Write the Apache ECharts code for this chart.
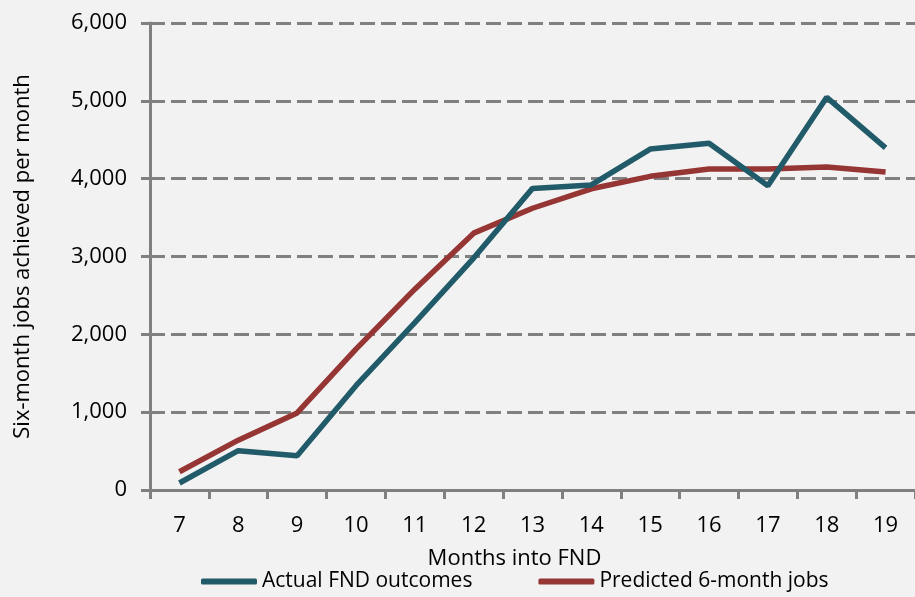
<!DOCTYPE html>
<html><head><meta charset="utf-8">
<script src="https://cdn.jsdelivr.net/npm/echarts@6/dist/echarts.min.js"></script>
<style>html,body{margin:0;padding:0;background:#f2f2f2;}#c{width:915px;height:597px;}</style>
</head><body><div id="c"></div>
<script>
const months = ['7','8','9','10','11','12','13','14','15','16','17','18','19'];
const actualOutcomes = [90, 505, 440, 1340, 2150, 2980, 3875, 3920, 4380, 4455, 3910, 5045, 4395];
const predictedJobs = [235, 640, 990, 1810, 2580, 3300, 3620, 3870, 4030, 4125, 4125, 4150, 4085];
const yTicks = [0, 1000, 2000, 3000, 4000, 5000, 6000];

const FONT = 'Open Sans';
const chart = echarts.init(document.getElementById('c'));
chart.setOption({
  backgroundColor: '#f2f2f2',
  animation: false,
  textStyle: {fontFamily: FONT},
  grid: {left: 150, right: -6, top: 23, bottom: 107, containLabel: false},
  legend: {
    bottom: 0, left: 196,
    icon: 'roundRect',
    itemWidth: 56, itemHeight: 6, itemGap: 66,
    textStyle: {fontFamily: FONT, fontSize: 21, color: '#000'},
    data: ['Actual FND outcomes', 'Predicted 6-month jobs']
  },
  xAxis: {
    type: 'category', data: months, boundaryGap: true,
    name: 'Months into FND', nameLocation: 'middle', nameGap: 58,
    nameTextStyle: {fontFamily: FONT, fontSize: 22, color: '#000', padding: [0, 36, 0, 0]},
    axisLine: {lineStyle: {color: '#808080', width: 3}},
    axisTick: {show: true, length: 9, lineStyle: {color: '#808080', width: 3}},
    axisLabel: {fontFamily: FONT, fontSize: 22, color: '#000', margin: 25}
  },
  yAxis: {
    type: 'value', min: yTicks[0], max: yTicks[yTicks.length-1], interval: 1000,
    name: 'Six-month jobs achieved per month', nameLocation: 'middle', nameGap: 116,
    nameTextStyle: {fontFamily: FONT, fontSize: 22, color: '#000'},
    axisLine: {show: true, lineStyle: {color: '#808080', width: 3}},
    axisTick: {show: true, length: 9, lineStyle: {color: '#808080', width: 3}},
    axisLabel: {fontFamily: FONT, fontSize: 22, color: '#000', margin: 23,
      formatter: v => v.toLocaleString('en-US')},
    splitLine: {show: true, lineStyle: {color: '#808080', width: 3, type: [15, 6]}}
  },
  series: [
    {name: 'Actual FND outcomes', type: 'line', data: actualOutcomes, symbol: 'none',
     lineStyle: {color: '#215a69', width: 5.5}, itemStyle: {color: '#215a69'}, z: 3},
    {name: 'Predicted 6-month jobs', type: 'line', data: predictedJobs, symbol: 'none',
     lineStyle: {color: '#963634', width: 5.5}, itemStyle: {color: '#963634'}, z: 2}
  ]
});
</script></body></html>
